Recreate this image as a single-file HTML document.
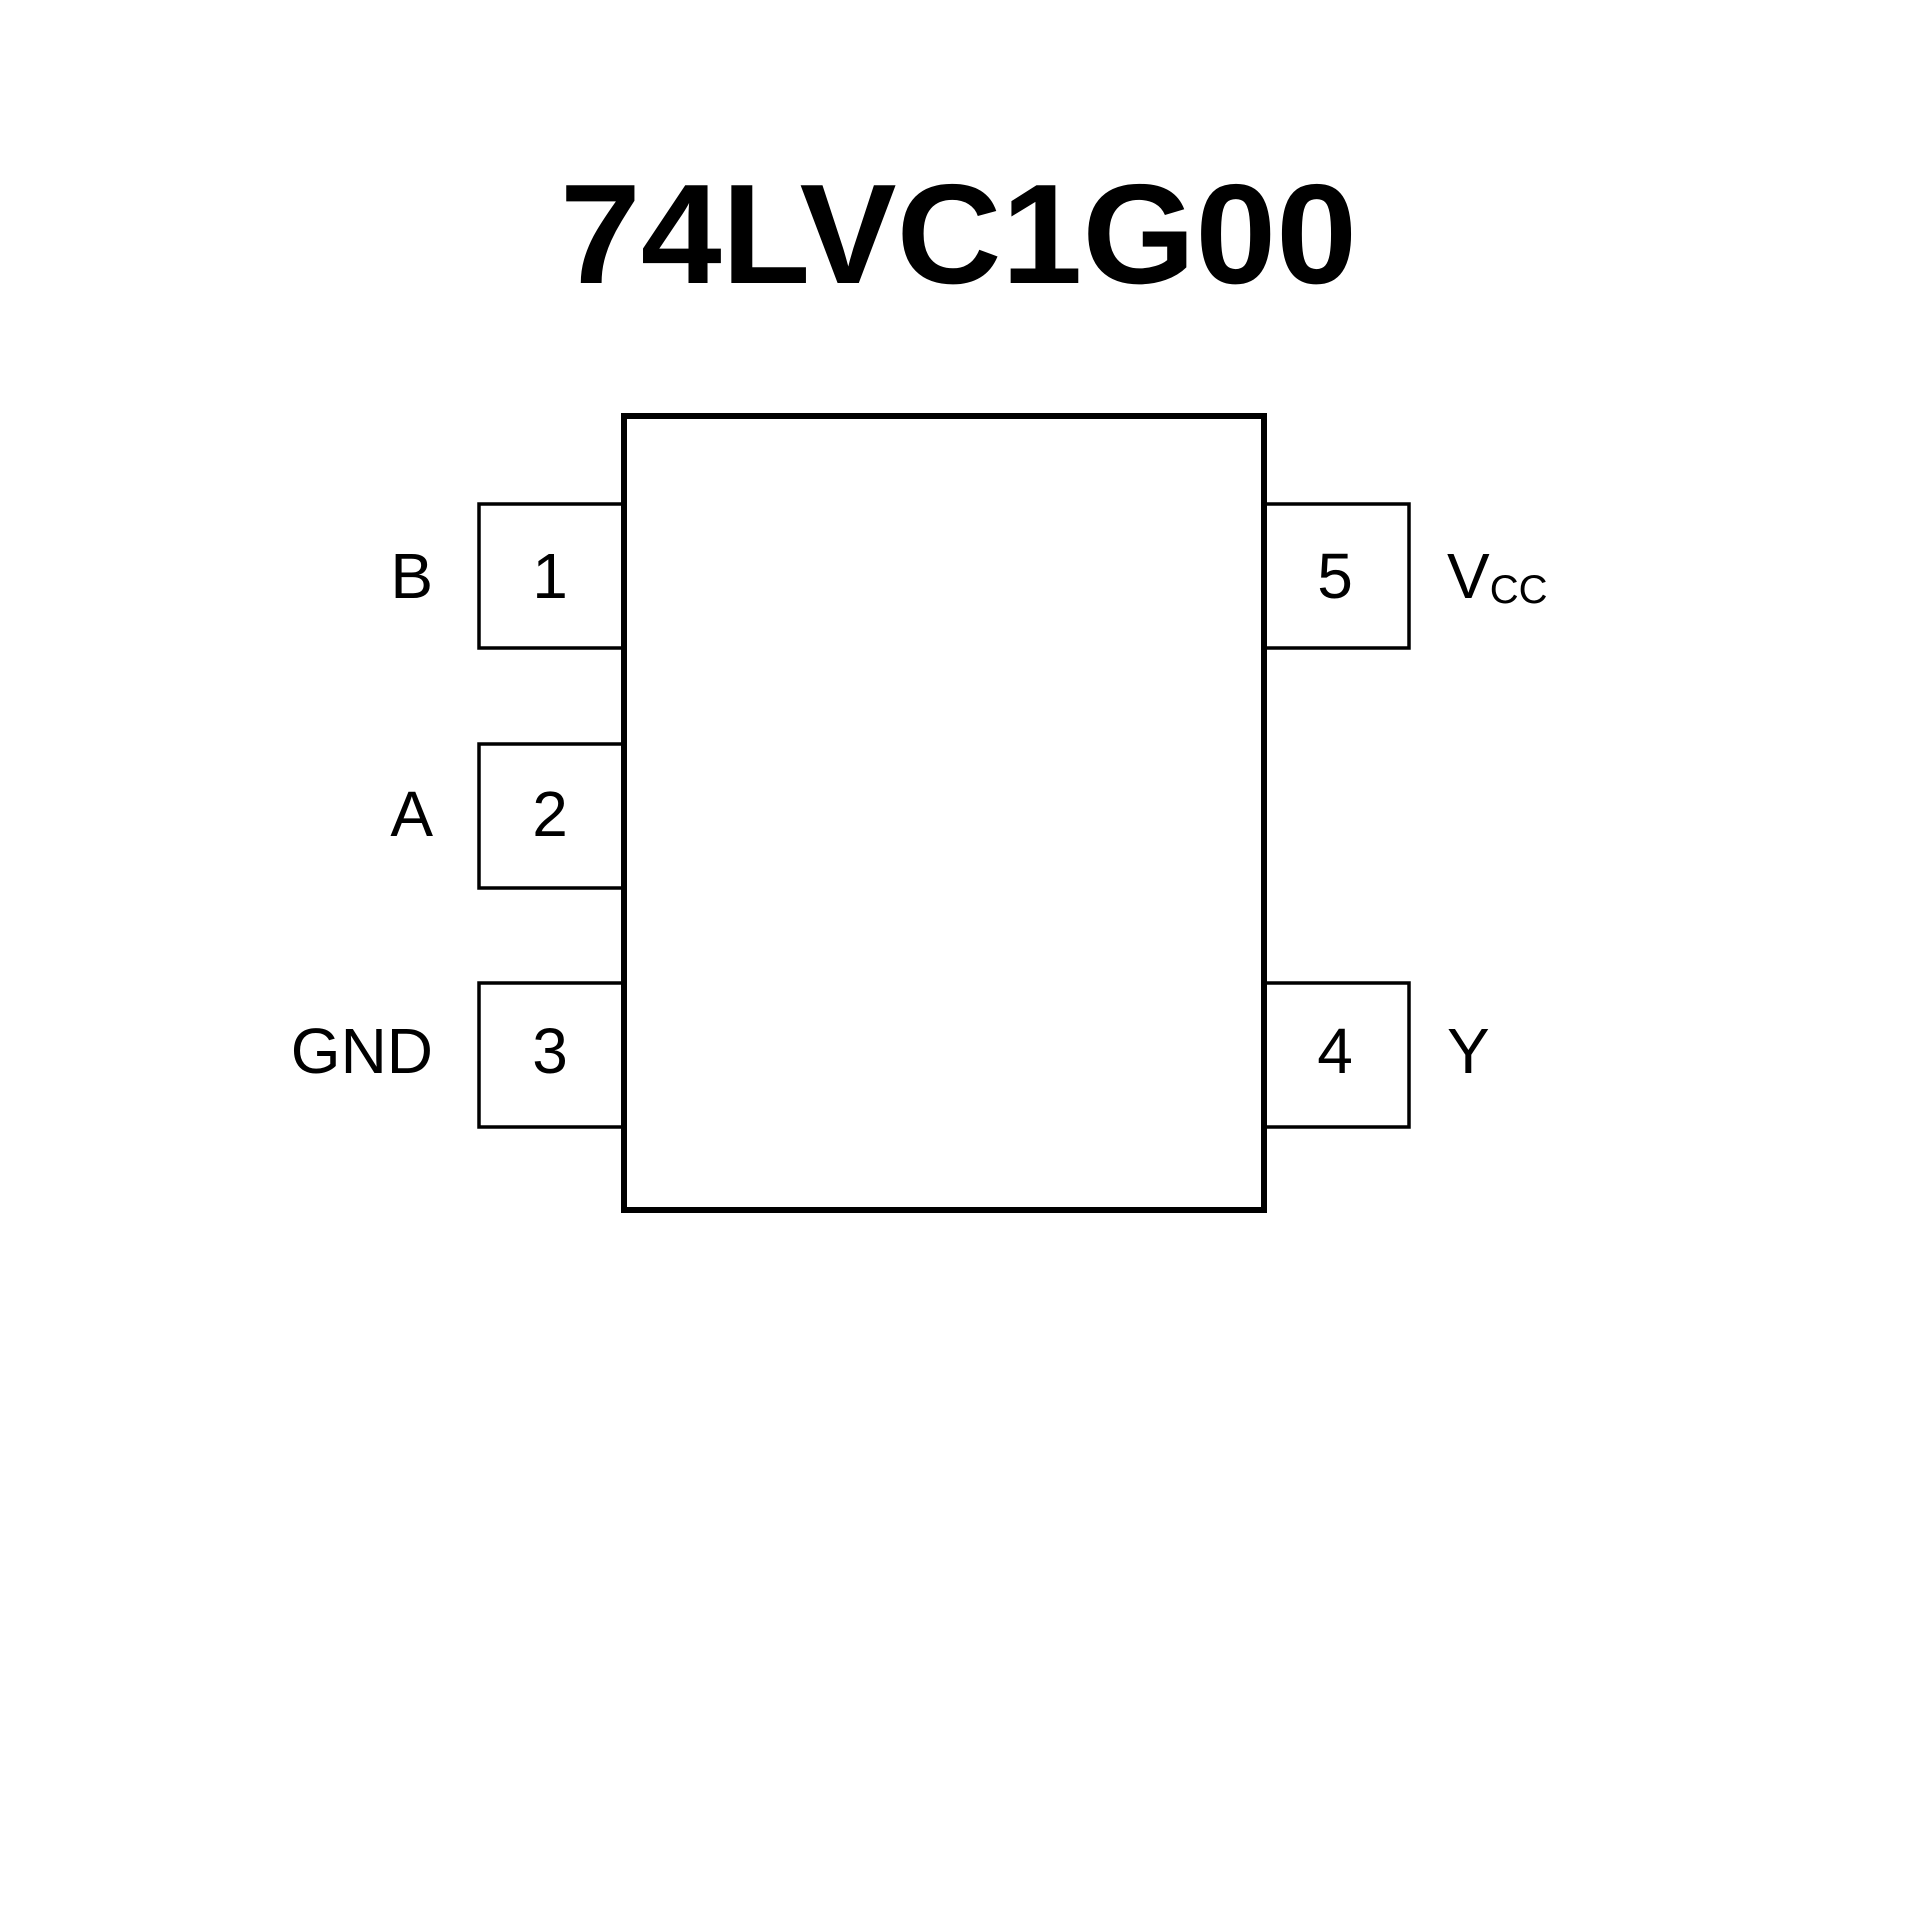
<!DOCTYPE html>
<html><head><style>html,body{margin:0;padding:0;background:#fff;}svg{display:block}</style></head>
<body>
<svg width="1920" height="1920" viewBox="0 0 1920 1920" xmlns="http://www.w3.org/2000/svg">
<rect width="1920" height="1920" fill="#fff"/>
<text x="560" y="283" font-family="Liberation Sans, sans-serif" font-weight="bold" font-size="142" textLength="797" lengthAdjust="spacingAndGlyphs">74LVC1G00</text>
<g fill="none" stroke="#000" stroke-width="3.5">
<rect x="479" y="504" width="145" height="144"/>
<rect x="479" y="744" width="145" height="144"/>
<rect x="479" y="983" width="145" height="144"/>
<rect x="1264" y="504" width="145" height="144"/>
<rect x="1264" y="983" width="145" height="144"/>
</g>
<rect x="624" y="416" width="640" height="794" fill="#fff" stroke="#000" stroke-width="6"/>
<g font-family="Liberation Sans, sans-serif" font-size="64" fill="#000">
<text x="550" y="598" text-anchor="middle">1</text>
<text x="550" y="836" text-anchor="middle">2</text>
<text x="550" y="1073" text-anchor="middle">3</text>
<text x="1335" y="598" text-anchor="middle">5</text>
<text x="1335" y="1073" text-anchor="middle">4</text>
<text x="433" y="598" text-anchor="end">B</text>
<text x="433" y="836" text-anchor="end">A</text>
<text x="433" y="1073" text-anchor="end">GND</text>
<text x="1447" y="598">V<tspan font-size="40" dy="5">CC</tspan></text>
<text x="1447" y="1073">Y</text>
</g>
</svg>
</body></html>
